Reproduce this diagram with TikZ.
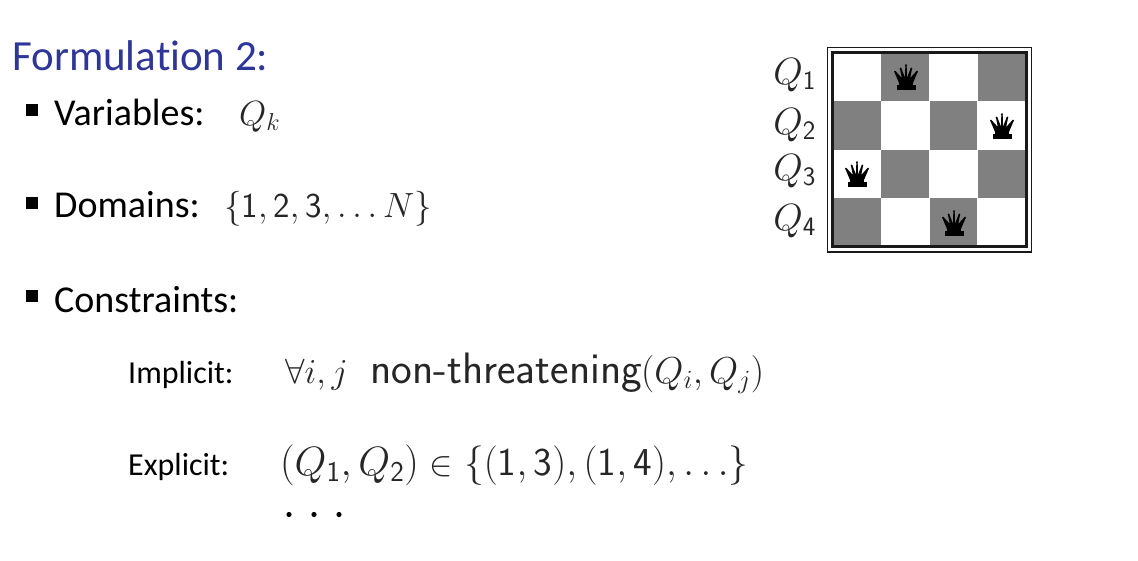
\documentclass[tikz,border=0pt]{standalone}
\usepackage{fix-cm}
\usepackage{fontspec}
\setmainfont[Ligatures=NoCommon]{Carlito}
\newcommand{\sd}[1]{\mathsf{#1}}
\newcommand{\lp}{\mathopen{\mathsf{(}}}
\newcommand{\rp}{\mathclose{\mathsf{)}}}
\begin{document}
\begin{tikzpicture}[x=1pt,y=-1pt,
  title/.style={inner sep=0,anchor=base west,text=titleblue,font=\fontsize{43}{48}\selectfont},
  head/.style={inner sep=0,anchor=base west,font=\fontsize{38}{44}\selectfont},
  small/.style={inner sep=0,anchor=base west,font=\fontsize{32}{38}\selectfont},
  mathtext/.style={inner sep=0,anchor=base west,text=black!85,font=\fontsize{35}{42}\selectfont},
  mathbig/.style={inner sep=0,anchor=base west,text=black!85,font=\fontsize{39.5}{46}\selectfont},
  wordtext/.style={inner sep=0,anchor=base west,text=black!85,font=\fontsize{44}{50}\selectfont\sffamily},
  rowlabel/.style={inner sep=0,anchor=base east,text=black!85,font=\fontsize{38}{44}\selectfont},
  bullet/.style={fill=black,minimum size=11.5pt,inner sep=0},
  dark/.style={fill=black!50,draw=none},
  pics/queen/.style={code={
    \fill[black] (-9.5,12.8) rectangle (9.5,8);
    \fill[black] (-7,9) rectangle (7,5);
    \fill[black] (-7,6) -- (-11.6,-5) -- (-10.2,-5.6) -- (-4.2,1) -- (-6,-8) -- (-4.6,-8.4) -- (-1,0.5)
       -- (-0.7,-11) -- (0.7,-11) -- (1,0.5) -- (4.6,-8.4) -- (6,-8) -- (4.2,1) -- (10.2,-5.6) -- (11.6,-5) -- (7,6) -- cycle;
    \fill[black] (-11,-5.4) circle (1) (-5.3,-8.5) circle (1) (0,-11.8) circle (1.1) (5.3,-8.5) circle (1) (11,-5.4) circle (1);
  }}]
\definecolor{titleblue}{HTML}{2F3699}
\useasboundingbox (0,0) rectangle (1138,560);
\fill[white] (0,0) rectangle (1138,560);

\node[title] (t) at (12,70) {Formulation 2:};

\node[bullet] (b1) at (32,110) {};
\node[head] (v) at (54,125) {Variables:};
\node[mathtext] (vm) at (239,125) {$Q_k$};
\node[bullet] (b2) at (32,203) {};
\node[head] (d) at (54,217) {Domains:};
\node[mathtext] (dm) at (224,217) {$\{\sd{1},\sd{2},\sd{3},\ldots N\}$};
\node[bullet] (b3) at (32,296) {};
\node[head] (c) at (54,312) {Constraints:};

\node[small] (i) at (128,383) {Implicit:};
\node[mathtext] (im1) at (285,383) {$\forall i,j$};
\node[wordtext] (im2) at (370,383) {non-threatening};
\node[mathtext,font=\fontsize{37.5}{43}\selectfont] (im3) at (641,383) {$\lp Q_i,Q_j\rp$};
\node[small] (e) at (128,475) {Explicit:};
\node[mathtext,font=\fontsize{41}{48}\selectfont] (em1) at (280,475) {$\lp Q_{\sd{1}},Q_{\sd{2}}\rp$};
\node[mathtext] (em2) at (429,475) {$\in$};
\node[mathbig] (em3) at (464,475) {$\{\lp\sd{1},\sd{3}\rp,\lp\sd{1},\sd{4}\rp,\ldots\}$};
\fill[black] (289,514.5) circle (2.6) (314,514.5) circle (2.6) (339,514.5) circle (2.6);

% board
\draw[line width=1.7pt,black!90] (827.5,47.5) rectangle (1031.5,252);
\fill[dark] (881,53) rectangle (929,101);
\fill[dark] (978,53) rectangle (1026,101);
\fill[dark] (833,101) rectangle (881,150);
\fill[dark] (930,101) rectangle (977,150);
\fill[dark] (881,150) rectangle (929,198);
\fill[dark] (978,150) rectangle (1026,198);
\fill[dark] (833,198) rectangle (881,246);
\fill[dark] (930,198) rectangle (977,246);
\draw[line width=2.2pt,black!90] (832.5,52.5) rectangle (1026.5,246.5);
\pic at (906,77) {queen};
\pic at (1002,126) {queen};
\pic at (857,174) {queen};
\pic at (954,223) {queen};
\node[rowlabel] (q1) at (816,84) {$Q_{\sd{1}}$};
\node[rowlabel] (q2) at (816,134) {$Q_{\sd{2}}$};
\node[rowlabel] (q3) at (816,180) {$Q_{\sd{3}}$};
\node[rowlabel] (q4) at (816,230) {$Q_{\sd{4}}$};
\end{tikzpicture}
\end{document}
